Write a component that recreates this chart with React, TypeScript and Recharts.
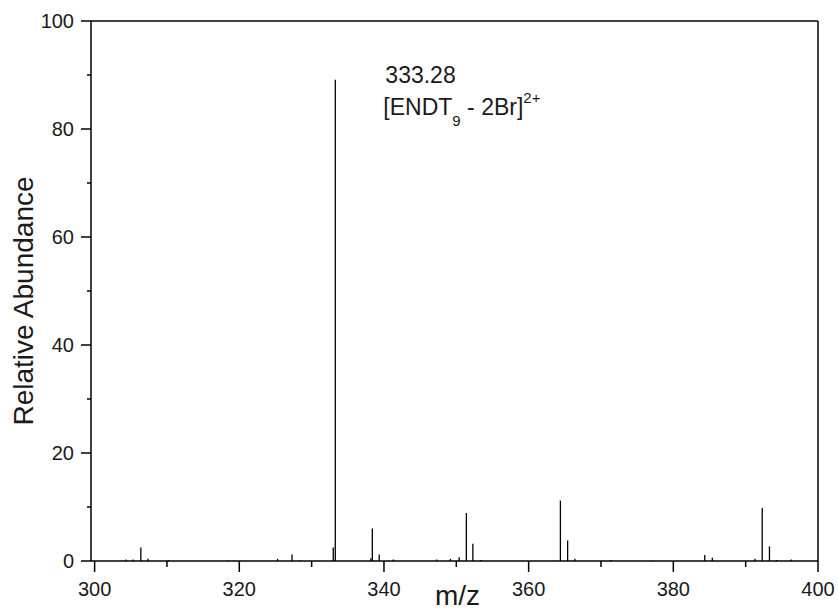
import React from 'react';
import { BarChart, Bar, XAxis, YAxis, ReferenceLine, ReferenceDot, Label } from 'recharts';

const mzValues = [304.35, 305.3, 306.4, 307.4, 310.2, 318.5, 319.3, 325.3, 327.3, 328.4, 333.0, 333.28, 338.2, 338.4, 339.35, 341.3, 347.3, 349.2, 350.4, 351.4, 352.3, 353.4, 364.4, 365.4, 366.4, 371.4, 377.2, 384.35, 385.4, 391.3, 392.3, 393.3, 394.3, 396.3];
const abundanceValues = [0.3, 0.3, 2.5, 0.4, 0.2, 0.1, 0.1, 0.4, 1.2, 0.1, 2.5, 89.1, 0.5, 6.0, 1.2, 0.3, 0.3, 0.4, 0.7, 8.9, 3.2, 0.2, 11.2, 3.8, 0.4, 0.2, 0.1, 1.1, 0.6, 0.4, 9.8, 2.7, 0.2, 0.3];
const xTicks = [300, 310, 320, 330, 340, 350, 360, 370, 380, 390, 400];
const xLabeled = [300, 320, 340, 360, 380, 400];
const yTicks = [0, 10, 20, 30, 40, 50, 60, 70, 80, 90, 100];
const yLabeled = [0, 20, 40, 60, 80, 100];
const peakMz = 333.28;
const peakAbundance = 89.1;

const data = mzValues.map((mz, i) => ({ mz, abundance: abundanceValues[i] }));

const FONT = '"Liberation Sans", Arial, sans-serif';
const TEXT = '#1a1a1a';

const XTick = (props: any) => {
  const { x, y, payload } = props;
  const major = xLabeled.includes(payload.value);
  return (
    <g>
      <line x1={x} x2={x} y1={y} y2={y + (major ? 11 : 6)} stroke="#000" strokeWidth={1.5} />
      {major && (
        <text x={x} y={y + 35} textAnchor="middle" fontFamily={FONT} fontSize={20} fill={TEXT}>
          {payload.value}
        </text>
      )}
    </g>
  );
};

const YTick = (props: any) => {
  const { x, y, payload } = props;
  const major = yLabeled.includes(payload.value);
  return (
    <g>
      <line x1={x - (major ? 10 : 4)} x2={x} y1={y} y2={y} stroke="#000" strokeWidth={1.5} />
      {major && (
        <text x={x - 17} y={y} dy="0.35em" textAnchor="end" fontFamily={FONT} fontSize={20} fill={TEXT}>
          {payload.value}
        </text>
      )}
    </g>
  );
};

const PeakLabel = (props: any) => {
  const vb = props.viewBox || {};
  const x = (vb.x ?? 0) + 50;
  const y = (vb.y ?? 0) + 3;
  return (
    <g fontFamily={FONT} fill={TEXT}>
      <text x={x} y={y} fontSize={23}>{peakMz.toFixed(2)}</text>
      <text x={x - 2} y={y + 32} fontSize={23}>
        [ENDT
        <tspan fontSize={15} dy={11}>9</tspan>
        <tspan dy={-11}> - 2Br]</tspan>
        <tspan fontSize={15} dy={-12}>2+</tspan>
      </text>
    </g>
  );
};

export default function App() {
  return (
    <div style={{ position: 'absolute', left: 0, top: 0, width: 838, height: 610, background: '#fff' }}>
      <BarChart width={838} height={610} data={data} margin={{ top: 21, right: 20, bottom: 0, left: 0 }}>
        <XAxis
          dataKey="mz"
          type="number"
          domain={[299.5, 400]}
          ticks={xTicks}
          interval={0}
          allowDataOverflow
          height={49}
          tickSize={0}
          tickMargin={0}
          tickLine={false}
          axisLine={{ stroke: '#000', strokeWidth: 1.5 }}
          tick={<XTick />}
        >
          <Label
            content={(p: any) => {
              const vb = p.viewBox || {};
              return (
                <text x={vb.x + vb.width / 2 + 3} y={vb.y + 44} textAnchor="middle" fontFamily={FONT} fontSize={28} fill={TEXT}>
                  m/z
                </text>
              );
            }}
          />
        </XAxis>
        <YAxis
          type="number"
          domain={[0, 100]}
          ticks={yTicks}
          interval={0}
          width={91}
          tickSize={0}
          tickMargin={0}
          tickLine={false}
          axisLine={{ stroke: '#000', strokeWidth: 1.5 }}
          tick={<YTick />}
        >
          <Label
            content={(p: any) => {
              const vb = p.viewBox || {};
              const cx = 33;
              const cy = vb.y + vb.height / 2 + 10;
              return (
                <text x={cx} y={cy} transform={`rotate(-90 ${cx} ${cy})`} textAnchor="middle" fontFamily={FONT} fontSize={28} fill={TEXT}>
                  Relative Abundance
                </text>
              );
            }}
          />
        </YAxis>
        <ReferenceLine y={100} stroke="#000" strokeWidth={1.5} />
        <ReferenceLine x={400} stroke="#000" strokeWidth={1.5} />
        <Bar dataKey="abundance" fill="#000" barSize={2} isAnimationActive={false} />
        <ReferenceDot x={peakMz} y={peakAbundance} r={0} fill="none" stroke="none" label={{ content: PeakLabel }} />
      </BarChart>
    </div>
  );
}
